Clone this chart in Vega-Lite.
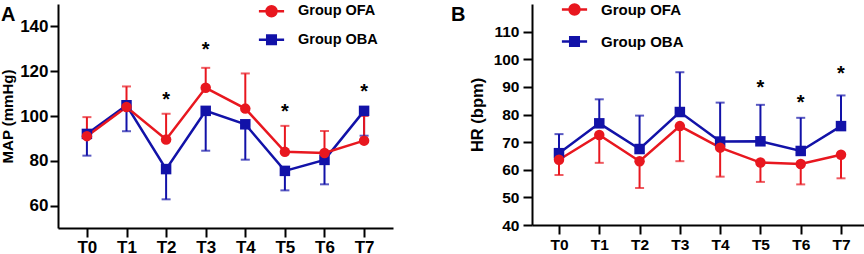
{
  "$schema": "https://vega.github.io/schema/vega-lite/v6.json",
  "padding": {"left": 0, "top": 1, "right": 0, "bottom": 0},
  "background": "white",
  "config": {
    "view": {"stroke": null},
    "font": "Liberation Sans",
    "axis": {"grid": false, "domainColor": "black", "domainWidth": 2, "tickColor": "black", "tickWidth": 2, "labelColor": "black", "labelFontWeight": "bold", "titleColor": "black", "titleFontWeight": "bold", "labelFont": "Liberation Sans", "titleFont": "Liberation Sans", "labelOverlap": false},
    "legend": {"symbolOpacity": 1}
  },
  "datasets": {
    "vals": [
      {"panel": "A", "time": "T0", "group": "Group OBA", "mean": 92.0, "bar": 82.3},
      {"panel": "A", "time": "T1", "group": "Group OBA", "mean": 104.8, "bar": 93.2},
      {"panel": "A", "time": "T2", "group": "Group OBA", "mean": 76.3, "bar": 62.8},
      {"panel": "A", "time": "T3", "group": "Group OBA", "mean": 102.3, "bar": 84.5},
      {"panel": "A", "time": "T4", "group": "Group OBA", "mean": 96.3, "bar": 80.5},
      {"panel": "A", "time": "T5", "group": "Group OBA", "mean": 75.5, "bar": 66.8},
      {"panel": "A", "time": "T6", "group": "Group OBA", "mean": 80.4, "bar": 69.5},
      {"panel": "A", "time": "T7", "group": "Group OBA", "mean": 102.3, "bar": 91.2},
      {"panel": "A", "time": "T0", "group": "Group OFA", "mean": 91.0, "bar": 99.5},
      {"panel": "A", "time": "T1", "group": "Group OFA", "mean": 104.0, "bar": 113.2},
      {"panel": "A", "time": "T2", "group": "Group OFA", "mean": 89.5, "bar": 101.0},
      {"panel": "A", "time": "T3", "group": "Group OFA", "mean": 112.6, "bar": 121.5},
      {"panel": "A", "time": "T4", "group": "Group OFA", "mean": 103.3, "bar": 119.0},
      {"panel": "A", "time": "T5", "group": "Group OFA", "mean": 84.0, "bar": 95.6},
      {"panel": "A", "time": "T6", "group": "Group OFA", "mean": 83.5, "bar": 93.3},
      {"panel": "A", "time": "T7", "group": "Group OFA", "mean": 89.0, "bar": 100.0},
      {"panel": "B", "time": "T0", "group": "Group OBA", "mean": 66.0, "bar": 72.9},
      {"panel": "B", "time": "T1", "group": "Group OBA", "mean": 76.8, "bar": 85.5},
      {"panel": "B", "time": "T2", "group": "Group OBA", "mean": 67.5, "bar": 79.6},
      {"panel": "B", "time": "T3", "group": "Group OBA", "mean": 80.9, "bar": 95.3},
      {"panel": "B", "time": "T4", "group": "Group OBA", "mean": 70.2, "bar": 84.3},
      {"panel": "B", "time": "T5", "group": "Group OBA", "mean": 70.3, "bar": 83.5},
      {"panel": "B", "time": "T6", "group": "Group OBA", "mean": 66.8, "bar": 78.8},
      {"panel": "B", "time": "T7", "group": "Group OBA", "mean": 75.8, "bar": 86.9},
      {"panel": "B", "time": "T0", "group": "Group OFA", "mean": 63.6, "bar": 58.1},
      {"panel": "B", "time": "T1", "group": "Group OFA", "mean": 72.6, "bar": 62.5},
      {"panel": "B", "time": "T2", "group": "Group OFA", "mean": 63.1, "bar": 53.4},
      {"panel": "B", "time": "T3", "group": "Group OFA", "mean": 75.8, "bar": 63.1},
      {"panel": "B", "time": "T4", "group": "Group OFA", "mean": 68.0, "bar": 57.5},
      {"panel": "B", "time": "T5", "group": "Group OFA", "mean": 62.6, "bar": 55.6},
      {"panel": "B", "time": "T6", "group": "Group OFA", "mean": 62.1, "bar": 54.7},
      {"panel": "B", "time": "T7", "group": "Group OFA", "mean": 65.4, "bar": 56.9}
    ],
    "stars": [
      {"panel": "A", "time": "T2", "star": 109.5},
      {"panel": "A", "time": "T3", "star": 131.5},
      {"panel": "A", "time": "T5", "star": 103.8},
      {"panel": "A", "time": "T7", "star": 113.0},
      {"panel": "B", "time": "T5", "star": 91.4},
      {"panel": "B", "time": "T6", "star": 86.1},
      {"panel": "B", "time": "T7", "star": 96.5}
    ]
  },
  "spacing": 58,
  "resolve": {"scale": {"x": "independent", "y": "independent", "color": "independent", "stroke": "independent", "fill": "independent", "shape": "independent"}, "legend": {"color": "independent", "shape": "independent", "stroke": "independent", "fill": "independent"}},
  "hconcat": [
    {
      "width": 335,
      "height": 224,
      "title": {"text": "A", "anchor": "start", "frame": "group", "fontSize": 20, "fontWeight": "bold", "font": "Liberation Sans", "color": "black", "dx": -57, "offset": -22},
      "data": {"name": "vals"},
      "transform": [{"filter": "datum.panel === 'A'"}],
      "encoding": {
        "x": {"field": "time", "type": "ordinal", "scale": {"type": "point", "padding": 0.73},
          "axis": {"title": null, "labelAngle": 0, "labelFontSize": 17, "tickSize": 9, "labelPadding": 2}}
      },
      "layer": [
        {
          "mark": {"type": "rule", "strokeWidth": 2},
          "encoding": {
            "y": {"field": "mean", "type": "quantitative", "title": "MAP (mmHg)", "scale": {"domain": [50, 150], "nice": false, "zero": false},
              "axis": {"values": [60, 80, 100, 120, 140], "labelFontSize": 17, "tickSize": 8, "labelPadding": 2, "titleFontSize": 15, "titlePadding": 4}},
            "y2": {"field": "bar"},
            "stroke": {"field": "group", "type": "nominal", "scale": {"domain": ["Group OFA", "Group OBA"], "range": ["#E8171F", "#1212A8"]},
              "legend": {"orient": "none", "legendX": 205, "legendY": -1.25, "title": null, "symbolSize": 196, "symbolStrokeWidth": 2.5, "symbolOpacity": 1, "labelFontSize": 14.5, "labelFont": "Liberation Sans", "labelFontWeight": "bold", "labelColor": "black", "labelOffset": 18, "rowPadding": 8.5}}
          }
        },
        {
          "mark": {"type": "tick", "orient": "horizontal", "size": 9, "thickness": 2},
          "encoding": {
            "y": {"field": "bar", "type": "quantitative", "title": "MAP (mmHg)", "scale": {"domain": [50, 150], "nice": false, "zero": false},
              "axis": {"values": [60, 80, 100, 120, 140], "labelFontSize": 17, "tickSize": 8, "labelPadding": 2, "titleFontSize": 15, "titlePadding": 4}},
            "fill": {"field": "group", "type": "nominal", "scale": {"domain": ["Group OFA", "Group OBA"], "range": ["#E8171F", "#1212A8"]},
              "legend": {"orient": "none", "legendX": 205, "legendY": -1.25, "title": null, "symbolSize": 196, "symbolStrokeWidth": 2.5, "symbolOpacity": 1, "labelFontSize": 14.5, "labelFont": "Liberation Sans", "labelFontWeight": "bold", "labelColor": "black", "labelOffset": 18, "rowPadding": 8.5}}
          }
        },
        {
          "mark": {"type": "line", "strokeWidth": 2.5},
          "encoding": {
            "y": {"field": "mean", "type": "quantitative", "title": "MAP (mmHg)", "scale": {"domain": [50, 150], "nice": false, "zero": false},
              "axis": {"values": [60, 80, 100, 120, 140], "labelFontSize": 17, "tickSize": 8, "labelPadding": 2, "titleFontSize": 15, "titlePadding": 4}},
            "stroke": {"field": "group", "type": "nominal", "scale": {"domain": ["Group OFA", "Group OBA"], "range": ["#E8171F", "#1212A8"]},
              "legend": {"orient": "none", "legendX": 205, "legendY": -1.25, "title": null, "symbolSize": 196, "symbolStrokeWidth": 2.5, "symbolOpacity": 1, "labelFontSize": 14.5, "labelFont": "Liberation Sans", "labelFontWeight": "bold", "labelColor": "black", "labelOffset": 18, "rowPadding": 8.5}}
          }
        },
        {
          "mark": {"type": "point", "filled": true, "size": 0},
          "encoding": {
            "y": {"field": "mean", "type": "quantitative", "title": "MAP (mmHg)", "scale": {"domain": [50, 150], "nice": false, "zero": false},
              "axis": {"values": [60, 80, 100, 120, 140], "labelFontSize": 17, "tickSize": 8, "labelPadding": 2, "titleFontSize": 15, "titlePadding": 4}},
            "shape": {"field": "group", "type": "nominal", "scale": {"domain": ["Group OFA", "Group OBA"], "range": ["M-1.8,0H1.8M0.71,0A0.71,0.71,0,1,1,-0.71,0A0.71,0.71,0,1,1,0.71,0Z", "M-1.8,0H1.8M-0.61,-0.61H0.61V0.61H-0.61Z"]},
              "legend": {"orient": "none", "legendX": 205, "legendY": -1.25, "title": null, "symbolSize": 196, "symbolStrokeWidth": 2.5, "symbolOpacity": 1, "labelFontSize": 14.5, "labelFont": "Liberation Sans", "labelFontWeight": "bold", "labelColor": "black", "labelOffset": 18, "rowPadding": 8.5}}
          }
        },
        {
          "transform": [{"filter": "datum.group === 'Group OBA'"}],
          "mark": {"type": "point", "filled": true, "size": 110, "opacity": 1, "shape": "square"},
          "encoding": {
            "y": {"field": "mean", "type": "quantitative", "title": "MAP (mmHg)", "scale": {"domain": [50, 150], "nice": false, "zero": false},
              "axis": {"values": [60, 80, 100, 120, 140], "labelFontSize": 17, "tickSize": 8, "labelPadding": 2, "titleFontSize": 15, "titlePadding": 4}},
            "color": {"field": "group", "type": "nominal", "scale": {"domain": ["Group OFA", "Group OBA"], "range": ["#E8171F", "#1212A8"]},
              "legend": {"orient": "none", "legendX": 205, "legendY": -1.25, "title": null, "symbolSize": 196, "symbolStrokeWidth": 2.5, "symbolOpacity": 1, "labelFontSize": 14.5, "labelFont": "Liberation Sans", "labelFontWeight": "bold", "labelColor": "black", "labelOffset": 18, "rowPadding": 8.5}}
          }
        },
        {
          "transform": [{"filter": "datum.group === 'Group OFA'"}],
          "mark": {"type": "point", "filled": true, "size": 110, "opacity": 1, "shape": "circle"},
          "encoding": {
            "y": {"field": "mean", "type": "quantitative", "title": "MAP (mmHg)", "scale": {"domain": [50, 150], "nice": false, "zero": false},
              "axis": {"values": [60, 80, 100, 120, 140], "labelFontSize": 17, "tickSize": 8, "labelPadding": 2, "titleFontSize": 15, "titlePadding": 4}},
            "color": {"field": "group", "type": "nominal", "scale": {"domain": ["Group OFA", "Group OBA"], "range": ["#E8171F", "#1212A8"]},
              "legend": {"orient": "none", "legendX": 205, "legendY": -1.25, "title": null, "symbolSize": 196, "symbolStrokeWidth": 2.5, "symbolOpacity": 1, "labelFontSize": 14.5, "labelFont": "Liberation Sans", "labelFontWeight": "bold", "labelColor": "black", "labelOffset": 18, "rowPadding": 8.5}}
          }
        },
        {
          "data": {"name": "stars"},
          "transform": [{"filter": "datum.panel === 'A'"}],
          "mark": {"type": "text", "text": "*", "fontSize": 20, "fontWeight": "bold", "font": "Liberation Sans", "color": "black", "baseline": "alphabetic", "dy": 11},
          "encoding": {
            "y": {"field": "star", "type": "quantitative", "title": "MAP (mmHg)", "scale": {"domain": [50, 150], "nice": false, "zero": false},
              "axis": {"values": [60, 80, 100, 120, 140], "labelFontSize": 17, "tickSize": 8, "labelPadding": 2, "titleFontSize": 15, "titlePadding": 4}}
          }
        }
      ]
    },
    {
      "width": 336,
      "height": 221,
      "title": {"text": "B", "anchor": "start", "frame": "group", "fontSize": 20, "fontWeight": "bold", "font": "Liberation Sans", "color": "black", "dx": -81, "offset": -24},
      "data": {"name": "vals"},
      "transform": [{"filter": "datum.panel === 'B'"}],
      "encoding": {
        "x": {"field": "time", "type": "ordinal", "scale": {"type": "point", "padding": 0.67},
          "axis": {"title": null, "labelAngle": 0, "labelFontSize": 15.5, "tickSize": 9, "labelPadding": 3}}
      },
      "layer": [
        {
          "mark": {"type": "rule", "strokeWidth": 2},
          "encoding": {
            "y": {"field": "mean", "type": "quantitative", "title": "HR (bpm)", "scale": {"domain": [40, 120], "nice": false, "zero": false},
              "axis": {"values": [40, 50, 60, 70, 80, 90, 100, 110], "labelFontSize": 15.5, "tickSize": 9, "labelPadding": 4, "titleFontSize": 16.5, "titlePadding": 8}},
            "y2": {"field": "bar"},
            "stroke": {"field": "group", "type": "nominal", "scale": {"domain": ["Group OFA", "Group OBA"], "range": ["#E8171F", "#1212A8"]},
              "legend": {"orient": "none", "legendX": 34, "legendY": -3, "title": null, "symbolSize": 196, "symbolStrokeWidth": 2.5, "symbolOpacity": 1, "labelFontSize": 15, "labelFont": "Liberation Sans", "labelFontWeight": "bold", "labelColor": "black", "labelOffset": 18, "rowPadding": 12}}
          }
        },
        {
          "mark": {"type": "tick", "orient": "horizontal", "size": 9, "thickness": 2},
          "encoding": {
            "y": {"field": "bar", "type": "quantitative", "title": "HR (bpm)", "scale": {"domain": [40, 120], "nice": false, "zero": false},
              "axis": {"values": [40, 50, 60, 70, 80, 90, 100, 110], "labelFontSize": 15.5, "tickSize": 9, "labelPadding": 4, "titleFontSize": 16.5, "titlePadding": 8}},
            "fill": {"field": "group", "type": "nominal", "scale": {"domain": ["Group OFA", "Group OBA"], "range": ["#E8171F", "#1212A8"]},
              "legend": {"orient": "none", "legendX": 34, "legendY": -3, "title": null, "symbolSize": 196, "symbolStrokeWidth": 2.5, "symbolOpacity": 1, "labelFontSize": 15, "labelFont": "Liberation Sans", "labelFontWeight": "bold", "labelColor": "black", "labelOffset": 18, "rowPadding": 12}}
          }
        },
        {
          "mark": {"type": "line", "strokeWidth": 2.5},
          "encoding": {
            "y": {"field": "mean", "type": "quantitative", "title": "HR (bpm)", "scale": {"domain": [40, 120], "nice": false, "zero": false},
              "axis": {"values": [40, 50, 60, 70, 80, 90, 100, 110], "labelFontSize": 15.5, "tickSize": 9, "labelPadding": 4, "titleFontSize": 16.5, "titlePadding": 8}},
            "stroke": {"field": "group", "type": "nominal", "scale": {"domain": ["Group OFA", "Group OBA"], "range": ["#E8171F", "#1212A8"]},
              "legend": {"orient": "none", "legendX": 34, "legendY": -3, "title": null, "symbolSize": 196, "symbolStrokeWidth": 2.5, "symbolOpacity": 1, "labelFontSize": 15, "labelFont": "Liberation Sans", "labelFontWeight": "bold", "labelColor": "black", "labelOffset": 18, "rowPadding": 12}}
          }
        },
        {
          "mark": {"type": "point", "filled": true, "size": 0},
          "encoding": {
            "y": {"field": "mean", "type": "quantitative", "title": "HR (bpm)", "scale": {"domain": [40, 120], "nice": false, "zero": false},
              "axis": {"values": [40, 50, 60, 70, 80, 90, 100, 110], "labelFontSize": 15.5, "tickSize": 9, "labelPadding": 4, "titleFontSize": 16.5, "titlePadding": 8}},
            "shape": {"field": "group", "type": "nominal", "scale": {"domain": ["Group OFA", "Group OBA"], "range": ["M-1.8,0H1.8M0.71,0A0.71,0.71,0,1,1,-0.71,0A0.71,0.71,0,1,1,0.71,0Z", "M-1.8,0H1.8M-0.61,-0.61H0.61V0.61H-0.61Z"]},
              "legend": {"orient": "none", "legendX": 34, "legendY": -3, "title": null, "symbolSize": 196, "symbolStrokeWidth": 2.5, "symbolOpacity": 1, "labelFontSize": 15, "labelFont": "Liberation Sans", "labelFontWeight": "bold", "labelColor": "black", "labelOffset": 18, "rowPadding": 12}}
          }
        },
        {
          "transform": [{"filter": "datum.group === 'Group OBA'"}],
          "mark": {"type": "point", "filled": true, "size": 110, "opacity": 1, "shape": "square"},
          "encoding": {
            "y": {"field": "mean", "type": "quantitative", "title": "HR (bpm)", "scale": {"domain": [40, 120], "nice": false, "zero": false},
              "axis": {"values": [40, 50, 60, 70, 80, 90, 100, 110], "labelFontSize": 15.5, "tickSize": 9, "labelPadding": 4, "titleFontSize": 16.5, "titlePadding": 8}},
            "color": {"field": "group", "type": "nominal", "scale": {"domain": ["Group OFA", "Group OBA"], "range": ["#E8171F", "#1212A8"]},
              "legend": {"orient": "none", "legendX": 34, "legendY": -3, "title": null, "symbolSize": 196, "symbolStrokeWidth": 2.5, "symbolOpacity": 1, "labelFontSize": 15, "labelFont": "Liberation Sans", "labelFontWeight": "bold", "labelColor": "black", "labelOffset": 18, "rowPadding": 12}}
          }
        },
        {
          "transform": [{"filter": "datum.group === 'Group OFA'"}],
          "mark": {"type": "point", "filled": true, "size": 110, "opacity": 1, "shape": "circle"},
          "encoding": {
            "y": {"field": "mean", "type": "quantitative", "title": "HR (bpm)", "scale": {"domain": [40, 120], "nice": false, "zero": false},
              "axis": {"values": [40, 50, 60, 70, 80, 90, 100, 110], "labelFontSize": 15.5, "tickSize": 9, "labelPadding": 4, "titleFontSize": 16.5, "titlePadding": 8}},
            "color": {"field": "group", "type": "nominal", "scale": {"domain": ["Group OFA", "Group OBA"], "range": ["#E8171F", "#1212A8"]},
              "legend": {"orient": "none", "legendX": 34, "legendY": -3, "title": null, "symbolSize": 196, "symbolStrokeWidth": 2.5, "symbolOpacity": 1, "labelFontSize": 15, "labelFont": "Liberation Sans", "labelFontWeight": "bold", "labelColor": "black", "labelOffset": 18, "rowPadding": 12}}
          }
        },
        {
          "data": {"name": "stars"},
          "transform": [{"filter": "datum.panel === 'B'"}],
          "mark": {"type": "text", "text": "*", "fontSize": 20, "fontWeight": "bold", "font": "Liberation Sans", "color": "black", "baseline": "alphabetic", "dy": 11},
          "encoding": {
            "y": {"field": "star", "type": "quantitative", "title": "HR (bpm)", "scale": {"domain": [40, 120], "nice": false, "zero": false},
              "axis": {"values": [40, 50, 60, 70, 80, 90, 100, 110], "labelFontSize": 15.5, "tickSize": 9, "labelPadding": 4, "titleFontSize": 16.5, "titlePadding": 8}}
          }
        }
      ]
    }
  ]
}
